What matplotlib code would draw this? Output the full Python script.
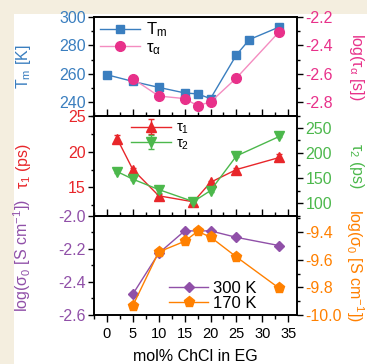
import numpy as np
import matplotlib
matplotlib.use("Agg")
import matplotlib.pyplot as plt
from matplotlib.patches import Rectangle

plt.rcParams['font.family'] = ['Liberation Sans', 'DejaVu Sans']
plt.rcParams['mathtext.fontset'] = 'custom'
plt.rcParams['mathtext.rm'] = 'Liberation Sans'
plt.rcParams['mathtext.it'] = 'Liberation Sans'
plt.rcParams['mathtext.default'] = 'regular'
plt.rcParams['axes.unicode_minus'] = False

# panel 1: melting temperature and alpha relaxation time
x_tm = [0, 5, 10, 15, 17.5, 20, 25, 27.5, 33.3]
tm = [259.3, 254.6, 250.4, 246.5, 245.8, 242.5, 273.3, 284.1, 293.0]
x_ta = [5, 10, 15, 17.5, 20, 25, 33.3]
log_ta = [-2.635, -2.757, -2.775, -2.825, -2.799, -2.63, -2.303]

# panel 2: tau1 / tau2 (ps)
x_tau = [2, 5, 10, 16.7, 20, 25, 33.3]
tau1 = [21.8, 17.5, 13.8, 12.95, 15.7, 17.5, 19.2]
tau1_err = [0.5, 0.2, 0.3, 0.2, 0.2, 0.2, 0.5]
tau2 = [162.7, 147.8, 127, 103, 125, 194, 233]
tau2_err = [2, 2, 6, 2, 2, 2, 2]

# panel 3: dc conductivity
x_300 = [5, 10, 15, 20, 25, 33.3]
sig_300 = [-2.474, -2.227, -2.092, -2.092, -2.131, -2.181]
x_170 = [5, 10, 15, 17.5, 20, 25, 33.3]
sig_170 = [-9.932, -9.543, -9.466, -9.394, -9.435, -9.579, -9.807]

c_tm = '#3a7ebf'
c_ta = '#e8318a'
c_t1 = '#e8262a'
c_t2 = '#4cb84c'
c_300 = '#9050a8'
c_170 = '#ff8000'

fig = plt.figure(figsize=(3.67, 3.64), dpi=100)
fig.patch.set_facecolor('#f4eedf')
fig.patches.append(Rectangle((14 / 367, 0), 1, 1 - 14 / 364, transform=fig.transFigure,
                             facecolor='white', edgecolor='none', zorder=-1))

axs = fig.subplots(3, 1, sharex=True)
fig.subplots_adjust(left=94 / 367, right=297 / 367, top=1 - 17 / 364, bottom=1 - 315 / 364, hspace=0)

lx, rx = -0.30, 1.34

def style(ax, c):
    ax.tick_params(axis='y', which='both', direction='out', colors='black', labelcolor=c, labelsize=11.5)
    ax.tick_params(axis='y', which='major', length=4, width=1, pad=2)
    ax.tick_params(axis='y', which='minor', length=2.5, width=1)
    for s in ax.spines.values():
        s.set_linewidth(1.2)

# ---- panel 1
ax = axs[0]
ax.plot(x_tm, tm, '-s', color=c_tm, lw=1, ms=6, label=r'$T_m$')
ax.set_ylim(230, 300)
ax.set_yticks([240, 260, 280, 300])
ax.set_yticks(np.arange(230, 301, 10), minor=True)
ax.set_ylabel(r'$T_m$ [K]', color=c_tm, fontsize=11.5)
ax.yaxis.set_label_coords(lx, 0.5)
style(ax, c_tm)
ax2 = ax.twinx()
ax2.plot(x_ta, log_ta, '-o', color='#f48cc0', mfc=c_ta, mec=c_ta, lw=1, ms=7, label=r'$\tau_\alpha$')
ax2.set_ylim(-2.9, -2.2)
ax2.set_yticks([-2.8, -2.6, -2.4, -2.2])
ax2.set_yticks(np.arange(-2.9, -2.19, 0.1), minor=True)
ax2.set_ylabel(r'log($\tau_\alpha$ [s])', color=c_ta, fontsize=11.5, rotation=270)
ax2.yaxis.set_label_coords(rx, 0.5)
style(ax2, c_ta)
h = ax.get_legend_handles_labels()[0] + ax2.get_legend_handles_labels()[0]
ax.legend(h, [r'$T_m$', r'$\tau_\alpha$'], loc='center left', bbox_to_anchor=(0.03, 0.78),
          frameon=False, fontsize=12, handlelength=2.4, handletextpad=0.35, labelspacing=0.05,
          borderpad=0, borderaxespad=0)

# ---- panel 2
ax = axs[1]
ax.errorbar(x_tau, tau1, yerr=tau1_err, fmt='-^', color=c_t1, lw=1, ms=7, capsize=2, label=r'$\tau_1$')
ax.set_ylim(11, 25)
ax.set_yticks([15, 20, 25])
ax.set_yticks(np.arange(12.5, 25.1, 2.5), minor=True)
ax.set_ylabel(r'$\tau_1$ (ps)', color=c_t1, fontsize=11.5)
ax.yaxis.set_label_coords(lx, 0.5)
style(ax, c_t1)
ax2 = ax.twinx()
ax2.errorbar(x_tau, tau2, yerr=tau2_err, fmt='-v', color=c_t2, lw=1, ms=7, capsize=2, label=r'$\tau_2$')
ax2.set_ylim(75, 273)
ax2.set_yticks([100, 150, 200, 250])
ax2.set_yticks(np.arange(75, 273, 25), minor=True)
ax2.set_ylabel(r'$\tau_2$ (ps)', color=c_t2, fontsize=11.5, rotation=270)
ax2.yaxis.set_label_coords(rx, 0.5)
style(ax2, c_t2)
h = ax.get_legend_handles_labels()[0] + ax2.get_legend_handles_labels()[0]
ax.legend(h, [r'$\tau_1$', r'$\tau_2$'], loc='center left', bbox_to_anchor=(0.18, 0.80),
          frameon=False, fontsize=10.5, handlelength=2.8, handletextpad=0.35, labelspacing=0.0,
          borderpad=0, borderaxespad=0)

# ---- panel 3
ax = axs[2]
ax.plot(x_300, sig_300, '-D', color=c_300, lw=1, ms=5.5, label='300 K')
ax.set_ylim(-2.6, -2.0)
ax.set_yticks([-2.6, -2.4, -2.2, -2.0])
ax.set_yticks(np.arange(-2.6, -1.99, 0.1), minor=True)
ax.set_ylabel(r'log($\sigma_0$ [S cm$^{-1}$])', color=c_300, fontsize=11.5)
ax.yaxis.set_label_coords(lx, 0.6)
style(ax, c_300)
ax2 = ax.twinx()
ax2.plot(x_170, sig_170, '-p', color=c_170, lw=1, ms=8, label='170 K')
ax2.set_ylim(-10.0, -9.28)
ax2.set_yticks([-10.0, -9.8, -9.6, -9.4])
ax2.set_yticks(np.arange(-10.0, -9.28, 0.1), minor=True)
ax2.set_ylabel(r'log($\sigma_0$ [S cm$^{-1}$])', color=c_170, fontsize=11.5, rotation=270)
ax2.yaxis.set_label_coords(rx, 0.5)
style(ax2, c_170)
h = ax.get_legend_handles_labels()[0] + ax2.get_legend_handles_labels()[0]
ax.legend(h, ['300 K', '170 K'], loc='center left', bbox_to_anchor=(0.37, 0.19),
          frameon=False, fontsize=12, handlelength=2.35, handletextpad=0.3, labelspacing=0.0,
          borderpad=0, borderaxespad=0)

# shared x
for i, ax in enumerate(axs):
    ax.set_xlim(-2.3, 36.7)
    ax.set_xticks(np.arange(0, 36, 5))
    ax.set_xticks(np.arange(-2.5, 37, 2.5), minor=True)
    ax.tick_params(axis='x', which='both', direction='out', top=(i > 0), labelsize=10.5)
    ax.tick_params(axis='x', which='major', length=5, width=1)
    ax.tick_params(axis='x', which='minor', length=3, width=1)
axs[2].set_xlabel('mol% ChCl in EG', fontsize=11.5, labelpad=6)

fig.savefig('out.png', dpi=100, facecolor=fig.get_facecolor())
